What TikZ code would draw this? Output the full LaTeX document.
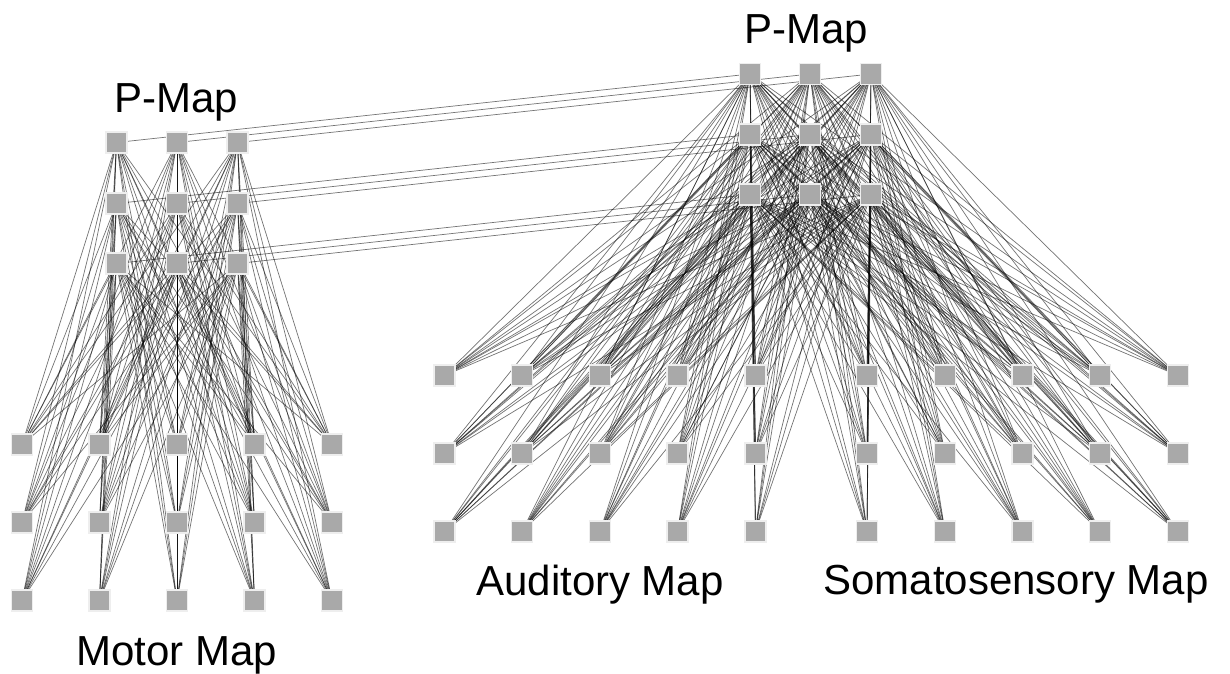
\documentclass[tikz,border=0pt]{standalone}
\usepackage{fontspec}
\setmainfont{Liberation Sans}
\usetikzlibrary{backgrounds}
\definecolor{unitfill}{HTML}{A9A9A9}
\definecolor{unitrim}{HTML}{EEEEEE}
\begin{document}
\begin{tikzpicture}[x=1pt,y=-1pt,
  unit/.style={rectangle, minimum size=21pt, inner sep=0pt, fill=unitfill, draw=unitrim, line width=1.2pt},
  link/.style={draw=black, draw opacity=0.55, line width=0.7pt},
  maplabel/.style={font=\fontsize{42}{48}\selectfont, inner sep=0pt, anchor=base}]
\useasboundingbox (0,0) rectangle (1230,673);

% left P-map (3x3)
\foreach \c/\x in {1/116.5,2/177,3/237.5}
  \foreach \r/\y in {1/142.5,2/203.5,3/263.5}
    \node[unit] (lp-\r-\c) at (\x,\y) {};
% motor map (3 rows x 5 columns)
\foreach \c/\x in {1/22,2/99.5,3/177,4/254.5,5/332}
  \foreach \r/\y in {1/444.5,2/522.5,3/600.5}
    \node[unit] (mo-\r-\c) at (\x,\y) {};
% right P-map (3x3)
\foreach \c/\x in {1/750,2/810,3/871}
  \foreach \r/\y in {1/74,2/134.5,3/194.5}
    \node[unit] (rp-\r-\c) at (\x,\y) {};
% auditory map
\foreach \c/\x in {1/444.5,2/522,3/600,4/677.5,5/755.5}
  \foreach \r/\y in {1/375.5,2/453.5,3/531.5}
    \node[unit] (au-\r-\c) at (\x,\y) {};
% somatosensory map
\foreach \c/\x in {1/867,2/945,3/1022.5,4/1100,5/1178}
  \foreach \r/\y in {1/375.5,2/453.5,3/531.5}
    \node[unit] (so-\r-\c) at (\x,\y) {};

% labels
\node[maplabel] (lbl-lp) at (176,112) {P-Map};
\node[maplabel] (lbl-rp) at (806,43) {P-Map};
\node[maplabel] (lbl-mo) at (176.5,665) {Motor Map};
\node[maplabel] (lbl-au) at (600,595) {Auditory Map};
\node[maplabel] (lbl-so) at (1016,594) {Somatosensory Map};

\begin{scope}[on background layer]
  % left P-map to motor map, all to all
  \foreach \pr in {1,2,3}
    \foreach \pc in {1,2,3}
      \foreach \mr in {1,2,3}
        \foreach \mc in {1,...,5}
          \draw[link] (lp-\pr-\pc.center) -- (mo-\mr-\mc.center);
  % right P-map to auditory and somatosensory maps, all to all
  \foreach \pr in {1,2,3}
    \foreach \pc in {1,2,3}
      \foreach \mr in {1,2,3}
        \foreach \mc in {1,...,5} {
          \draw[link] (rp-\pr-\pc.center) -- (au-\mr-\mc.center);
          \draw[link] (rp-\pr-\pc.center) -- (so-\mr-\mc.center);
        }
  % one-to-one links between the two P-maps
  \foreach \r in {1,2,3}
    \foreach \c in {1,2,3}
      \draw[link] (lp-\r-\c.center) -- (rp-\r-\c.center);
\end{scope}
\end{tikzpicture}
\end{document}
